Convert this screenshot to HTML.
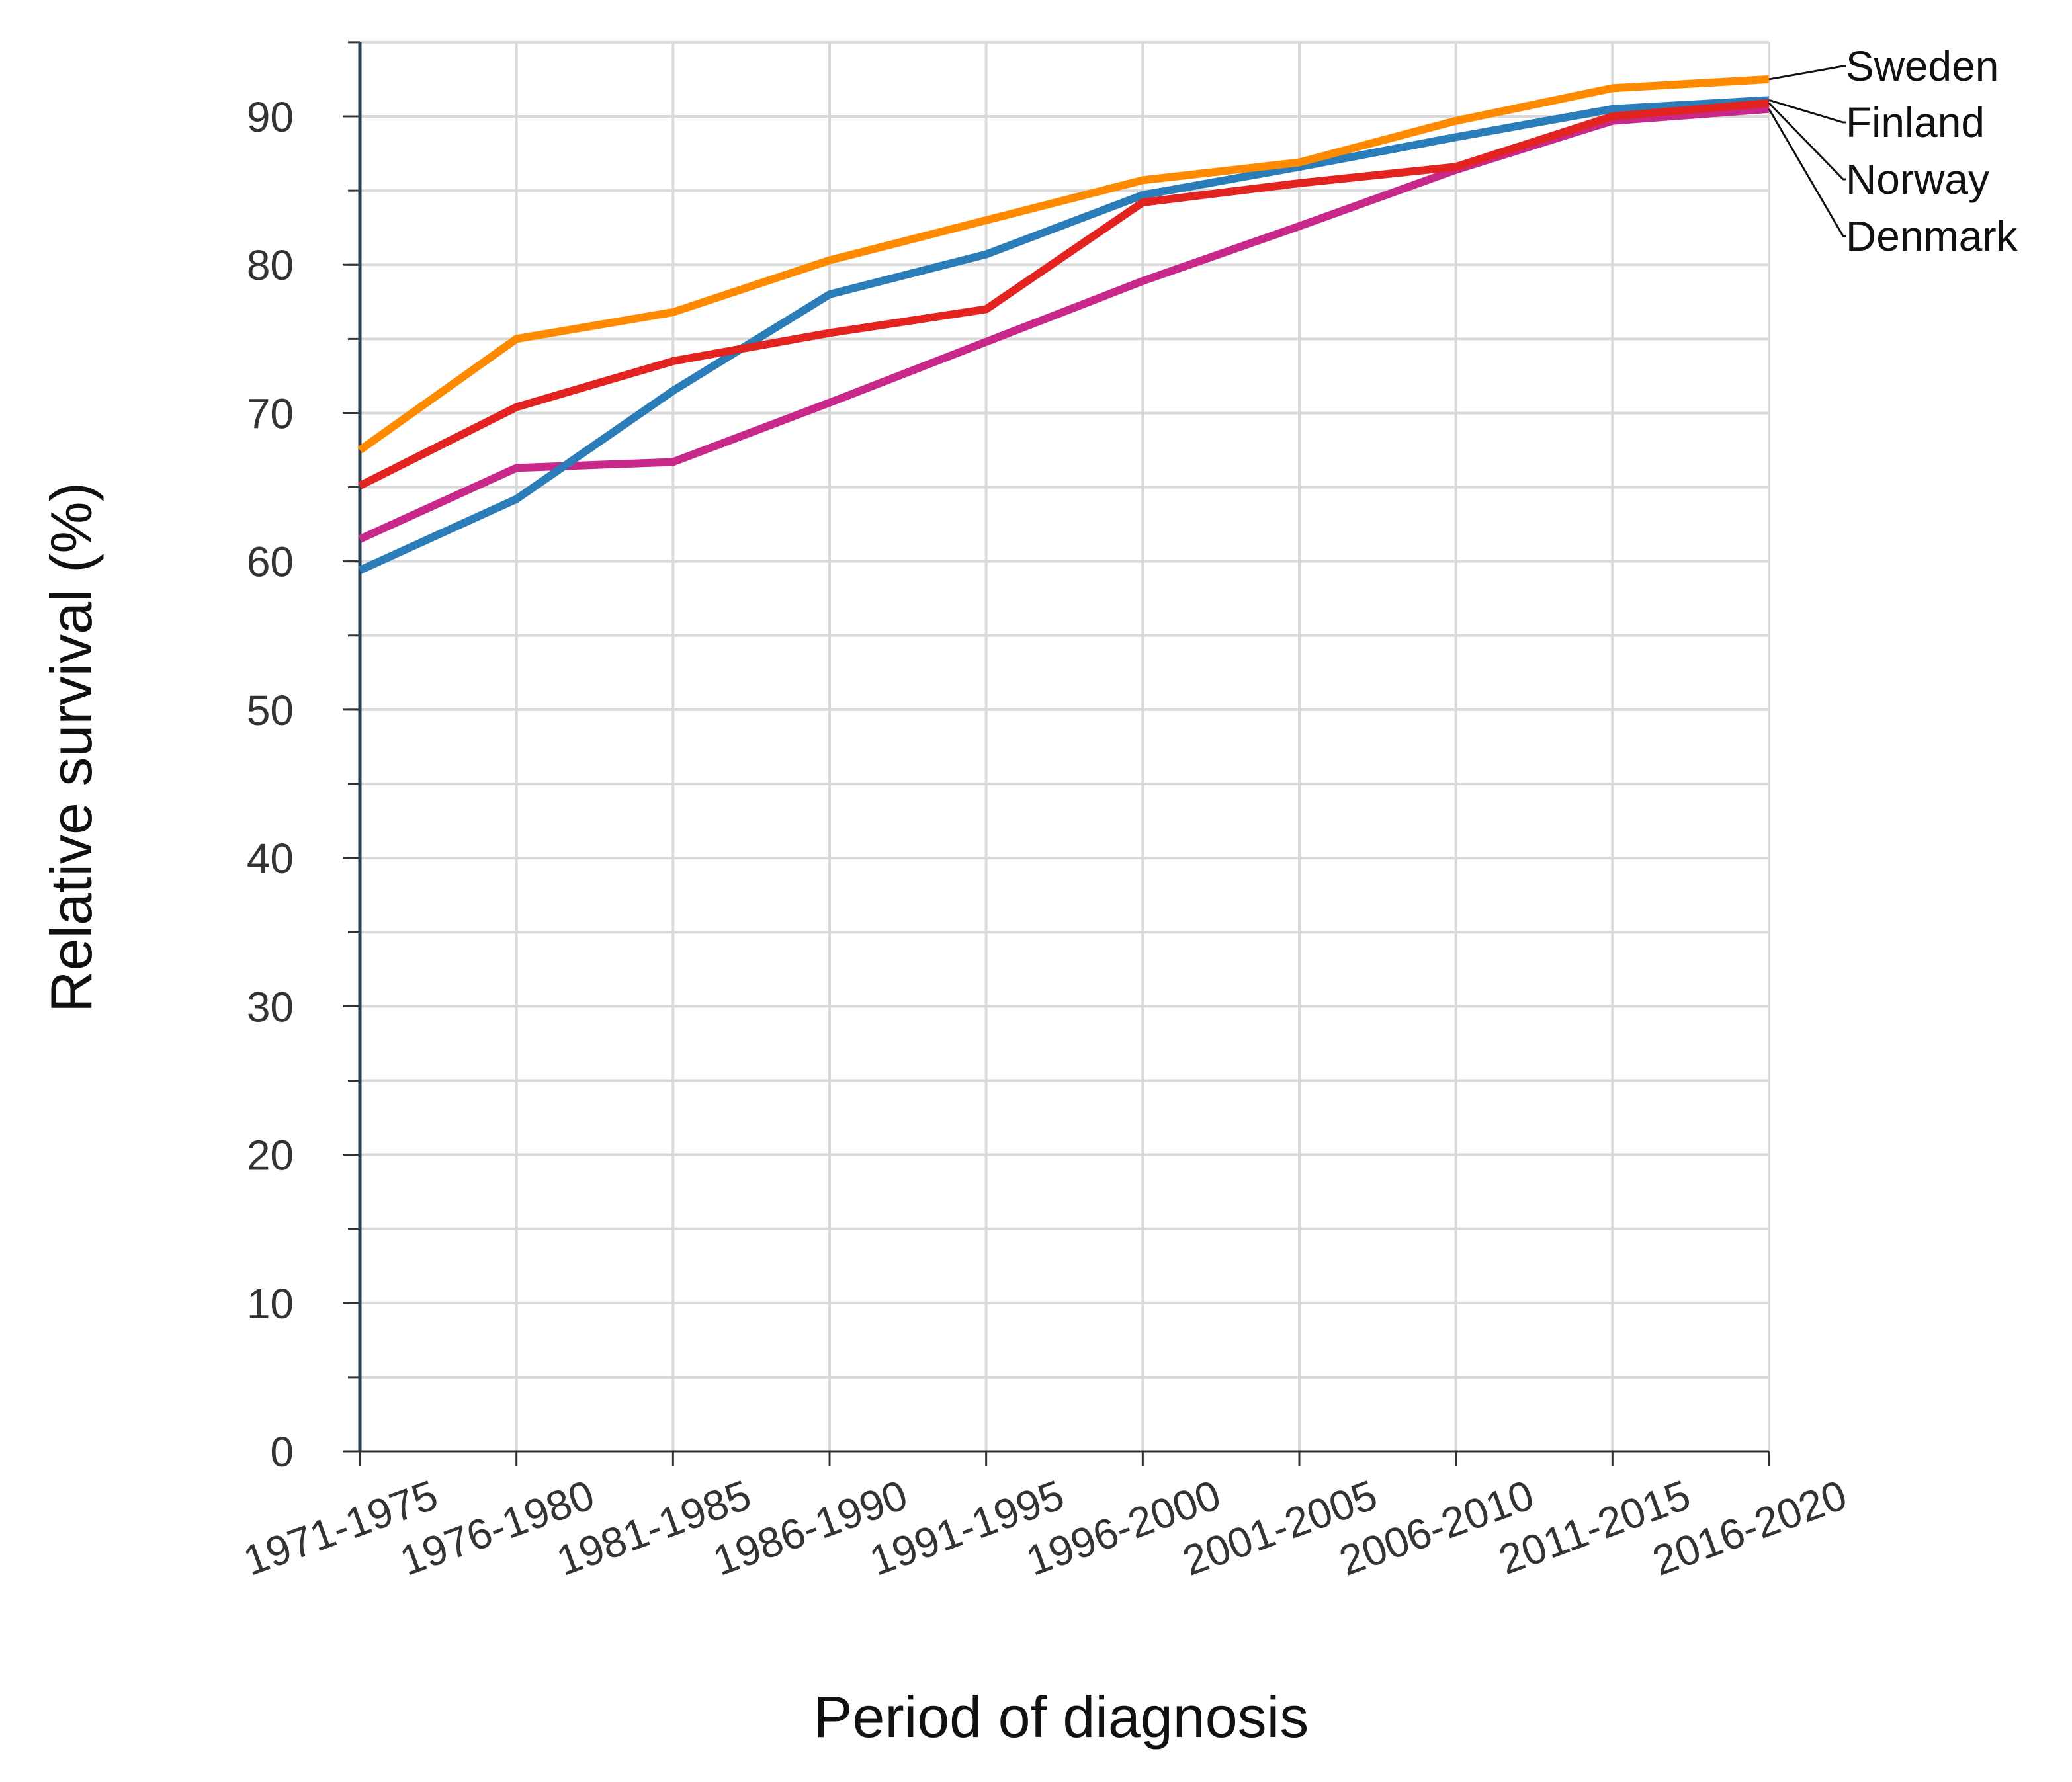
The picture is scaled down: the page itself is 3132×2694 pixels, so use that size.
<!DOCTYPE html>
<html><head><meta charset="utf-8">
<style>
html,body{margin:0;padding:0;background:#fff;}
svg{display:block;font-family:"Liberation Sans",sans-serif;}
</style></head>
<body>
<svg id="chart" width="3132" height="2694" viewBox="0 0 3132 2694" xmlns="http://www.w3.org/2000/svg">
<g id="grid"></g>
<g id="axes"></g>
<g id="series"></g>
<g id="legend"></g>
<text x="0" y="0" transform="translate(138,1130) rotate(-90)" text-anchor="middle" font-size="88" fill="#111">Relative survival (%)</text>
<text x="1604" y="2626" text-anchor="middle" font-size="88" fill="#111">Period of diagnosis</text>
</svg>
<script>
const categories = ["1971-1975","1976-1980","1981-1985","1986-1990","1991-1995","1996-2000","2001-2005","2006-2010","2011-2015","2016-2020"];
const yTicks = [0,10,20,30,40,50,60,70,80,90];
const seriesNames = ["Sweden","Finland","Norway","Denmark"];
const sweden = [67.5,75,76.8,80.3,83,85.7,86.9,89.7,91.9,92.5];
const finland = [59.4,64.2,71.5,78,80.7,84.7,86.6,88.6,90.5,91.1];
const norway = [65.1,70.4,73.5,75.4,77,84.2,85.5,86.6,90,90.9];
const denmark = [61.5,66.3,66.7,70.7,74.8,78.9,82.6,86.4,89.7,90.5];
const colors = ["#ff8a00","#2a7db8","#e2231f","#c8288a"];

const NS="http://www.w3.org/2000/svg";
const L=544,R=2674,B=2194,T=64;
const yPer=(2194-176)/90;
function y(v){return B-v*yPer;}
function x(i){return L+i*(R-L)/(categories.length-1);}
function mk(tag,attrs,parent){const e=document.createElementNS(NS,tag);for(const k in attrs)e.setAttribute(k,attrs[k]);parent.appendChild(e);return e;}
const grid=document.getElementById('grid'),axes=document.getElementById('axes'),ser=document.getElementById('series'),leg=document.getElementById('legend');
for(let v=5;v<=95;v+=5){
  const g=mk('line',{x1:L,x2:R,y1:y(v),y2:y(v),stroke:'#d9d9d9','stroke-width':4},grid);
  
  
  const t=mk('line',{x1:L-18,x2:L,y1:y(v),y2:y(v),stroke:'#333','stroke-width':3},axes);
  
  
}
categories.forEach((c,i)=>{
  const g=mk('line',{x1:x(i),x2:x(i),y1:T,y2:B,stroke:'#d9d9d9','stroke-width':4},grid);
  
  
  const t=mk('line',{x1:x(i),x2:x(i),y1:B,y2:B+22,stroke:'#333','stroke-width':3},axes);
  
  
  const lb=mk('text',{x:0,y:0,transform:`translate(${x(i)+122},${B+84}) rotate(-20)`,'text-anchor':'end','font-size':64,fill:'#333'},axes);
  lb.textContent=c;
  
  
});
yTicks.forEach(v=>{
  const t=mk('line',{x1:L-26,x2:L,y1:y(v),y2:y(v),stroke:'#333','stroke-width':3},axes);
  
  
  const lb=mk('text',{x:L-100,y:y(v)+23,'text-anchor':'end','font-size':64,fill:'#333'},axes);
  lb.textContent=v;
  
  
});
const ya=mk('line',{x1:L,x2:L,y1:T,y2:B,stroke:'#2c3e50','stroke-width':5},axes);


const xa=mk('line',{x1:L,x2:R,y1:B,y2:B,stroke:'#333','stroke-width':3},axes);


const data=[sweden,finland,norway,denmark];
const order=[3,1,2,0];
order.forEach(s=>{
  const d=data[s].map((v,i)=>(i?'L':'M')+x(i)+','+y(v)).join(' ');
  const p=mk('path',{d:d,fill:'none',stroke:colors[s],'stroke-width':12,'stroke-linejoin':'round'},ser);
  
  
});
const labelY=[100,185,271,357];
seriesNames.forEach((n,s)=>{
  const ey=y(data[s][data[s].length-1]);
  const ln=mk('polyline',{points:`${R},${ey} ${2786},${labelY[s]} ${2790},${labelY[s]}`,fill:'none',stroke:'#111','stroke-width':3},leg);
  
  
  const t=mk('text',{x:2790,y:labelY[s]+22,'font-size':64,fill:'#111'},leg);
  t.textContent=n;
  
  
});
</script>
</body></html>
